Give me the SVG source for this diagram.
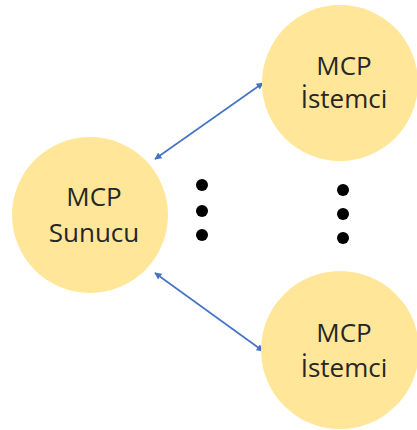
<svg xmlns="http://www.w3.org/2000/svg" width="417" height="430" viewBox="0 0 417 430">
  <defs>
    <marker id="arrow" viewBox="0 0 10 10" refX="9" refY="5" markerWidth="7" markerHeight="7" orient="auto-start-reverse" markerUnits="userSpaceOnUse">
      <path d="M0,0 L10,5 L0,10 z" fill="#4472C4"/>
    </marker>
  </defs>
  <style>
    .node circle { fill: #FFE699; }
    .node text { font-family: "Open Sans", "Liberation Sans", sans-serif; font-size: 26px; fill: #262626; text-anchor: middle; }
    .link { stroke: #4472C4; stroke-width: 1.6; fill: none; marker-start: url(#arrow); marker-end: url(#arrow); }
    .dot { fill: #000000; }
  </style>
  <rect width="417" height="430" fill="#ffffff"/>

  <g id="connectors">
    <line class="link" x1="155" y1="159" x2="263" y2="83"/>
    <line class="link" x1="155" y1="273" x2="263" y2="351"/>
  </g>

  <g id="server" class="node">
    <circle cx="90" cy="215" r="78"/>
    <text x="94" y="206">MCP</text>
    <text x="94" y="242">Sunucu</text>
  </g>

  <g id="client-top" class="node">
    <circle cx="340" cy="83" r="78"/>
    <text x="344" y="75">MCP</text>
    <text x="344" y="108">İstemci</text>
  </g>

  <g id="client-bottom" class="node">
    <circle cx="340" cy="350" r="79"/>
    <text x="344" y="342">MCP</text>
    <text x="344" y="377">İstemci</text>
  </g>

  <!-- ellipsis markers -->
  <g id="dots-left">
    <circle class="dot" cx="202" cy="185" r="6"/>
    <circle class="dot" cx="202" cy="211" r="6"/>
    <circle class="dot" cx="202" cy="235" r="6"/>
  </g>
  <g id="dots-right">
    <circle class="dot" cx="343" cy="190" r="6"/>
    <circle class="dot" cx="343" cy="214" r="6"/>
    <circle class="dot" cx="343" cy="238" r="6"/>
  </g>
</svg>
